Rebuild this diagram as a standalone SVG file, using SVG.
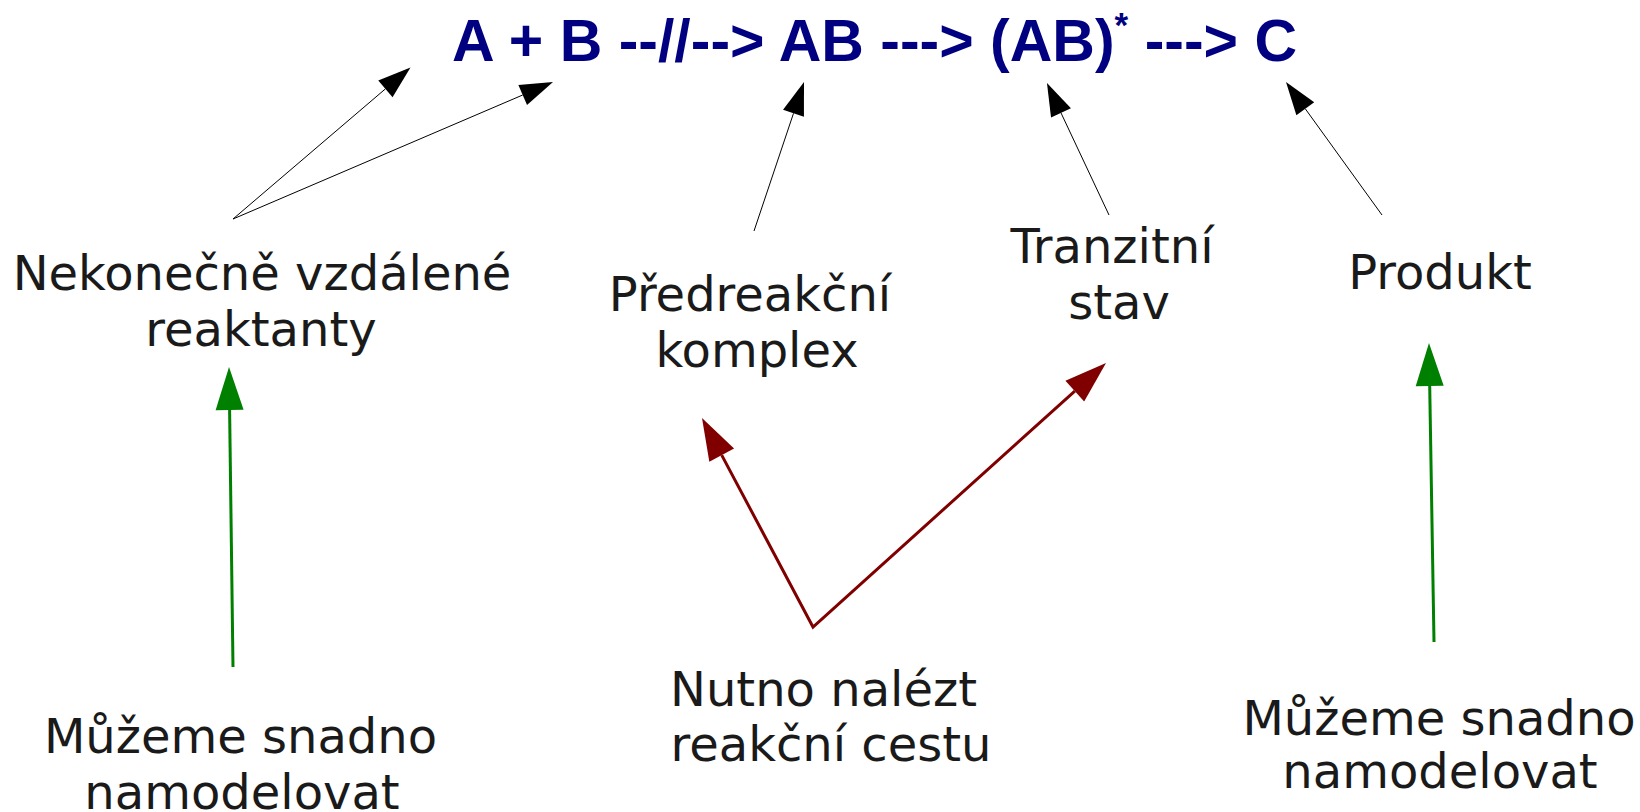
<svg xmlns="http://www.w3.org/2000/svg" width="1640" height="812" viewBox="0 0 1640 812">
<style>
.lbl{font-family:"DejaVu Sans",sans-serif;font-size:48px;fill:#1a1a1a;text-anchor:middle}
.title{font-family:"Liberation Sans",Arial,sans-serif;font-weight:bold;font-size:59px;fill:#000080}
.blk{stroke:#000;stroke-width:1;fill:none;marker-end:url(#hb)}
.red{stroke:#800000;stroke-width:3;fill:none;stroke-linejoin:miter;marker-start:url(#hr);marker-end:url(#hr)}
.grn{stroke:#008000;stroke-width:3;fill:none;marker-end:url(#hg)}
</style>
<defs>
<marker id="hb" markerUnits="userSpaceOnUse" viewBox="0 0 33 22" markerWidth="33" markerHeight="22" refX="0" refY="11" orient="auto-start-reverse" overflow="visible"><path d="M0,0 L33,11 L0,22 Z" fill="#000"/></marker>
<marker id="hr" markerUnits="userSpaceOnUse" viewBox="0 0 42 28" markerWidth="42" markerHeight="28" refX="0" refY="14" orient="auto-start-reverse" overflow="visible"><path d="M0,0 L42,14 L0,28 Z" fill="#800000"/></marker>
<marker id="hg" markerUnits="userSpaceOnUse" viewBox="0 0 43 28" markerWidth="43" markerHeight="28" refX="0" refY="14" orient="auto-start-reverse" overflow="visible"><path d="M0,0 L43,14 L0,28 Z" fill="#008000"/></marker>
</defs>
<rect width="1640" height="812" fill="#fff"/>
<g id="equation">
<text class="title" x="452" y="61">A + B --//--&gt; AB ---&gt; (AB)<tspan dy="-24" font-size="35">*</tspan><tspan dy="24"> ---&gt; C</tspan></text>
</g>
<g id="connectors">
<line class="blk" x1="233" y1="219" x2="385.4" y2="88.9"/>
<line class="blk" x1="233" y1="219" x2="522.7" y2="95"/>
<line class="blk" x1="754" y1="231" x2="793.5" y2="113.3"/>
<line class="blk" x1="1109" y1="215" x2="1061" y2="112.9"/>
<line class="blk" x1="1382" y1="215" x2="1305.3" y2="108.8"/>
<path class="red" d="M721.7,455.1 L813,627 L1074.8,391.1"/>
<line class="grn" x1="233" y1="667" x2="229.6" y2="410"/>
<line class="grn" x1="1434" y1="642" x2="1429.7" y2="386"/>
</g>
<g id="reaktanty">
<text class="lbl" x="262" y="290">Nekonečně vzdálené</text>
<text class="lbl" x="261" y="346">reaktanty</text>
</g>
<g id="predreakcni">
<text class="lbl" x="750" y="311">Předreakční</text>
<text class="lbl" x="757" y="367">komplex</text>
</g>
<g id="tranzitni">
<text class="lbl" x="1112" y="263">Tranzitní</text>
<text class="lbl" x="1119" y="319">stav</text>
</g>
<g id="produkt">
<text class="lbl" x="1440" y="289">Produkt</text>
</g>
<g id="model-left">
<text class="lbl" x="240.5" y="753">Můžeme snadno</text>
<text class="lbl" x="242" y="809">namodelovat</text>
</g>
<g id="cesta">
<text class="lbl" x="823.5" y="706">Nutno nalézt</text>
<text class="lbl" x="831" y="761">reakční cestu</text>
</g>
<g id="model-right">
<text class="lbl" x="1439" y="735">Můžeme snadno</text>
<text class="lbl" x="1440" y="788">namodelovat</text>
</g>
</svg>
